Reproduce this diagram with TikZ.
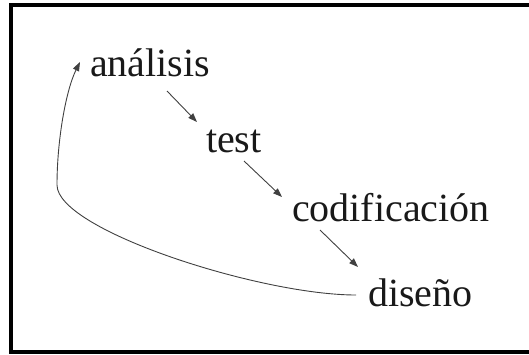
\documentclass[tikz,border=0pt]{standalone}
\usepackage{fontspec}
\setmainfont{Liberation Serif}
\usetikzlibrary{arrows.meta,calc}
\tikzset{
  phase/.style={inner sep=0pt,outer sep=0pt,anchor=base west,font=\fontsize{40}{44}\selectfont,text=black!90},
  flow/.style={line width=0.9pt,draw=black!75,-{Triangle[length=9pt,width=6.5pt]}},
  frameline/.style={line width=4pt,draw=black}
}
\begin{document}
\begin{tikzpicture}[x=1pt,y=-1pt]
  \useasboundingbox (0,0) rectangle (529,354);
  % outer frame
  \draw[frameline] (529,5) -- (11,5) -- (11,352) -- (529,352);
  % phases of the cycle
  \node[phase] (ana)  at (90,76)  {análisis};
  \node[phase] (test) at (206,152) {test};
  \node[phase] (cod)  at (292,221) {codificación};
  \node[phase] (dis)  at (368,306) {diseño};
  % forward steps
  \draw[flow] ($(ana.base west)+(77,15)$) -- ($(test.base west)+(-9,-30)$);
  \draw[flow] ($(test.base west)+(38,9)$) -- ($(cod.base west)+(-10,-24)$);
  \draw[flow] ($(cod.base west)+(28,9)$) -- ($(dis.base west)+(-10,-39)$);
  % feedback loop back to the start
  \draw[flow] ($(dis.base west)+(-12,-11)$) .. controls (260,295) and (57,230) .. (57,185)
              .. controls (57,140) and (66,90) .. ($(ana.base west)+(-10,-14)$);
\end{tikzpicture}
\end{document}
